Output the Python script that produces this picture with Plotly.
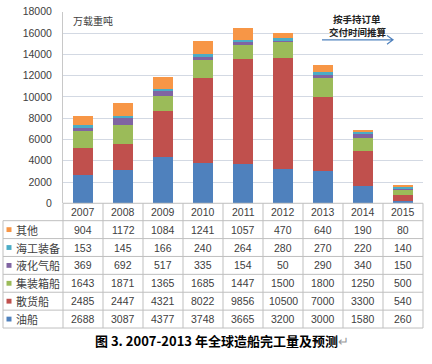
import plotly.graph_objects as go

W, H = 432, 364

years = ["2007", "2008", "2009", "2010", "2011", "2012", "2013", "2014", "2015"]
oil = [2688, 3087, 4377, 3748, 3665, 3200, 3000, 1580, 260]          # 油船
bulk = [2485, 2447, 4321, 8022, 9856, 10500, 7000, 3300, 540]       # 散货船
container = [1643, 1871, 1365, 1685, 1447, 1500, 1800, 1250, 500]  # 集装箱船
lng = [369, 692, 517, 335, 154, 50, 290, 340, 150]                  # 液化气船
offshore = [153, 145, 166, 240, 264, 280, 270, 220, 140]            # 海工装备
other = [904, 1172, 1084, 1241, 1057, 470, 640, 190, 80]            # 其他

series_names = ["油船", "散货船", "集装箱船", "液化气船", "海工装备", "其他"]
series_vals = [oil, bulk, container, lng, offshore, other]
colors = ["#4F81BD", "#C0504D", "#9BBB59", "#8064A2", "#4BACC6", "#F79646"]


def px(x):
    return x / W


def py(y):
    return 1 - y / H


NUM_FONT = "Liberation Sans, Noto Sans CJK SC, sans-serif"
CJK_FONT = "Noto Sans CJK SC, sans-serif"

fig = go.Figure()
for name, vals, c in zip(series_names, series_vals, colors):
    fig.add_trace(go.Bar(x=years, y=vals, name=name, marker=dict(color=c, line=dict(width=0))))

fig.update_layout(
    width=W, height=H,
    margin=dict(l=0, r=0, t=0, b=0),
    paper_bgcolor="white", plot_bgcolor="white",
    barmode="stack", bargap=0.5, showlegend=False,
    xaxis=dict(type="category", categoryorder="array", categoryarray=years,
               range=[-0.5, len(years) - 0.5], autorange=False,
               domain=[px(63), px(423)], showticklabels=False, showgrid=False,
               showline=False, zeroline=False, fixedrange=True),
    yaxis=dict(domain=[py(204), py(6)], range=[0, 18000], dtick=2000, tick0=0,
               tickformat="d", autorange=False, ticklabeloverflow="allow",
               showgrid=True, gridcolor="#D3D9E3", gridwidth=1,
               showline=True, linecolor="#C8C8C8", linewidth=1,
               zeroline=False, ticks="", ticklabelstandoff=8,
               tickfont=dict(family=NUM_FONT, size=10.5, color="#404040")),
)

shapes = []
annos = []
line_c = "#BFBFBF"
row_top = 222
row_h = (333 - 222) / 6
# horizontal table lines
shapes.append(dict(type="line", xref="paper", yref="paper", x0=px(63), x1=px(423),
                   y0=py(204), y1=py(204), line=dict(color=line_c, width=1)))
for i in range(7):
    yy = row_top + i * row_h
    shapes.append(dict(type="line", xref="paper", yref="paper", x0=px(3), x1=px(423),
                       y0=py(yy), y1=py(yy), line=dict(color=line_c, width=1)))
# vertical lines
shapes.append(dict(type="line", xref="paper", yref="paper", x0=px(3), x1=px(3),
                   y0=py(222), y1=py(333), line=dict(color=line_c, width=1)))
for k in range(10):
    xx = 63 + k * 40
    shapes.append(dict(type="line", xref="paper", yref="paper", x0=px(xx), x1=px(xx),
                       y0=py(204), y1=py(333), line=dict(color=line_c, width=1)))

# year header (x as category index on the category axis)
for i, yr in enumerate(years):
    annos.append(dict(x=i, xref="x", y=py(213), yref="paper", text=yr, showarrow=False,
                      font=dict(family=NUM_FONT, size=10.5, color="#404040"),
                      xanchor="center", yanchor="middle"))

# rows (top: 其他 ... bottom: 油船)
order = list(range(5, -1, -1))
for r, si in enumerate(order):
    yc = row_top + (r + 0.5) * row_h
    shapes.append(dict(type="rect", xref="paper", yref="paper",
                       x0=px(6.5), x1=px(11.5), y0=py(yc - 2.5), y1=py(yc + 2.5),
                       fillcolor=colors[si], line=dict(width=0)))
    annos.append(dict(x=px(13.5), xref="paper", y=py(yc), yref="paper",
                      text=series_names[si], showarrow=False, xanchor="left", yanchor="middle",
                      font=dict(family=CJK_FONT, size=11, color="#404040")))
    for i, v in enumerate(series_vals[si]):
        annos.append(dict(x=i, xref="x", y=py(yc), yref="paper", text=str(v), showarrow=False,
                          xanchor="center", yanchor="middle",
                          font=dict(family=NUM_FONT, size=10.5, color="#404040")))

# unit label
annos.append(dict(x=px(71), xref="paper", y=py(15), yref="paper", text="万载重吨",
                  showarrow=False, xanchor="left", yanchor="middle",
                  font=dict(family=CJK_FONT, size=10, color="#404040")))
# forecast note
annos.append(dict(x=px(357), xref="paper", y=py(13), yref="paper", text="<b>按手持订单</b>",
                  showarrow=False, xanchor="center", yanchor="middle",
                  font=dict(family=CJK_FONT, size=9.5, color="#222222")))
annos.append(dict(x=px(358), xref="paper", y=py(27), yref="paper", text="<b>交付时间推算</b>",
                  showarrow=False, xanchor="center", yanchor="middle",
                  font=dict(family=CJK_FONT, size=9.5, color="#222222")))
shapes.append(dict(type="path", xref="paper", yref="paper",
                   path=(f"M {px(322)},{py(35)} L {px(393)},{py(35)} "
                         f"M {px(387)},{py(30.5)} L {px(393)},{py(35)} L {px(387)},{py(39.5)}"),
                   line=dict(color="#4F81BD", width=1.2)))
# caption
annos.append(dict(x=px(93), xref="paper", y=py(346), yref="paper",
                  text="<b>图 3. 2007-2013 年全球造船完工量及预测</b><span style='color:#999'>↵</span>",
                  showarrow=False, xanchor="left", yanchor="middle",
                  font=dict(family=CJK_FONT, size=13, color="#000000")))

fig.update_layout(shapes=shapes, annotations=annos)
fig.write_html("out.html", config={"displayModeBar": False},
               post_script="document.body.style.margin='0';document.body.style.overflow='hidden';")
